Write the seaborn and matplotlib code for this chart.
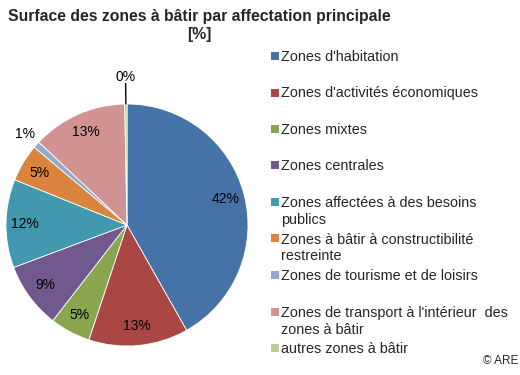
import matplotlib
matplotlib.use("Agg")
import numpy as np
import matplotlib.pyplot as plt
import seaborn as sns
from matplotlib.patches import Rectangle

# Data (percent of building zone surface)
CATEGORIES = [
    "Zones d'habitation",
    "Zones d'activités économiques",
    "Zones mixtes",
    "Zones centrales",
    "Zones affectées à des besoins\npublics",
    "Zones à bâtir à constructibilité\nrestreinte",
    "Zones de tourisme et de loisirs",
    "Zones de transport à l'intérieur  des\nzones à bâtir",
    "autres zones à bâtir",
]
SHARES = [41.8, 13.3, 5.4, 8.8, 11.8, 5.0, 0.9, 12.7, 0.3]
COLORS = [
    "#4572A7", "#AA4643", "#89A54E", "#71588F", "#4198AF",
    "#DB843D", "#93A9CF", "#D19392", "#B9CD96",
]
TITLE = "Surface des zones à bâtir par affectation principale\n[%]"
CREDIT = "© ARE"

sns.set_theme(style="white")
plt.rcParams["font.family"] = ["Liberation Sans", "DejaVu Sans"]

W, H = 520, 375
fig = plt.figure(figsize=(W / 100, H / 100), dpi=100)
fig.patch.set_facecolor("white")


def px_box(x0, y0, x1, y1):
    return [x0 / W, 1 - y1 / H, (x1 - x0) / W, (y1 - y0) / H]


def px_lines(x, y_base, text, pitch, **kw):
    # one fig.text per line so every baseline sits where Excel puts it
    for j, line in enumerate(text.split("\n")):
        fig.text(x / W, 1 - (y_base + j * pitch) / H, line,
                 va="baseline", **kw)


# ── Pie ──
ax = fig.add_axes(px_box(6, 104, 248, 346))
wedges, _, autotexts = ax.pie(
    SHARES, colors=COLORS, startangle=90, counterclock=False,
    autopct="%.0f%%", pctdistance=0.84,
    wedgeprops=dict(edgecolor="white", linewidth=0.6),
    textprops=dict(fontsize=10, color="black"),
)
ax.set_xlim(-1, 1)
ax.set_ylim(-1, 1)

# small slices get their label outside, the tiniest with a leader line
for share, w, t in zip(SHARES, wedges, autotexts):
    if share >= 2:
        continue
    mid = np.deg2rad((w.theta1 + w.theta2) / 2)
    r = 1.13 if share >= 0.5 else 1.22
    t.set_position((r * np.cos(mid), r * np.sin(mid)))
    if share < 0.5:
        ax.plot([np.cos(mid), 1.17 * np.cos(mid)],
                [np.sin(mid), 1.17 * np.sin(mid)],
                color="black", lw=1, clip_on=False)

# ── Title ──
px_lines(199, 20.5, TITLE, 19, ha="center", fontsize=11.3, fontweight="bold")

# ── Legend (drawn entry by entry, Excel style) ──
for i, (label, color) in enumerate(zip(CATEGORIES, COLORS)):
    yc = 56 + i * 36.5
    fig.patches.append(Rectangle((271 / W, 1 - (yc + 4) / H), 8 / W, 8 / H,
                                 transform=fig.transFigure,
                                 facecolor=color, edgecolor="none"))
    px_lines(281, yc + 5, label, 17, ha="left", fontsize=10.4)

px_lines(518, 364, CREDIT, 0, ha="right", fontsize=8.5)

fig.savefig("out.png", dpi=100)
